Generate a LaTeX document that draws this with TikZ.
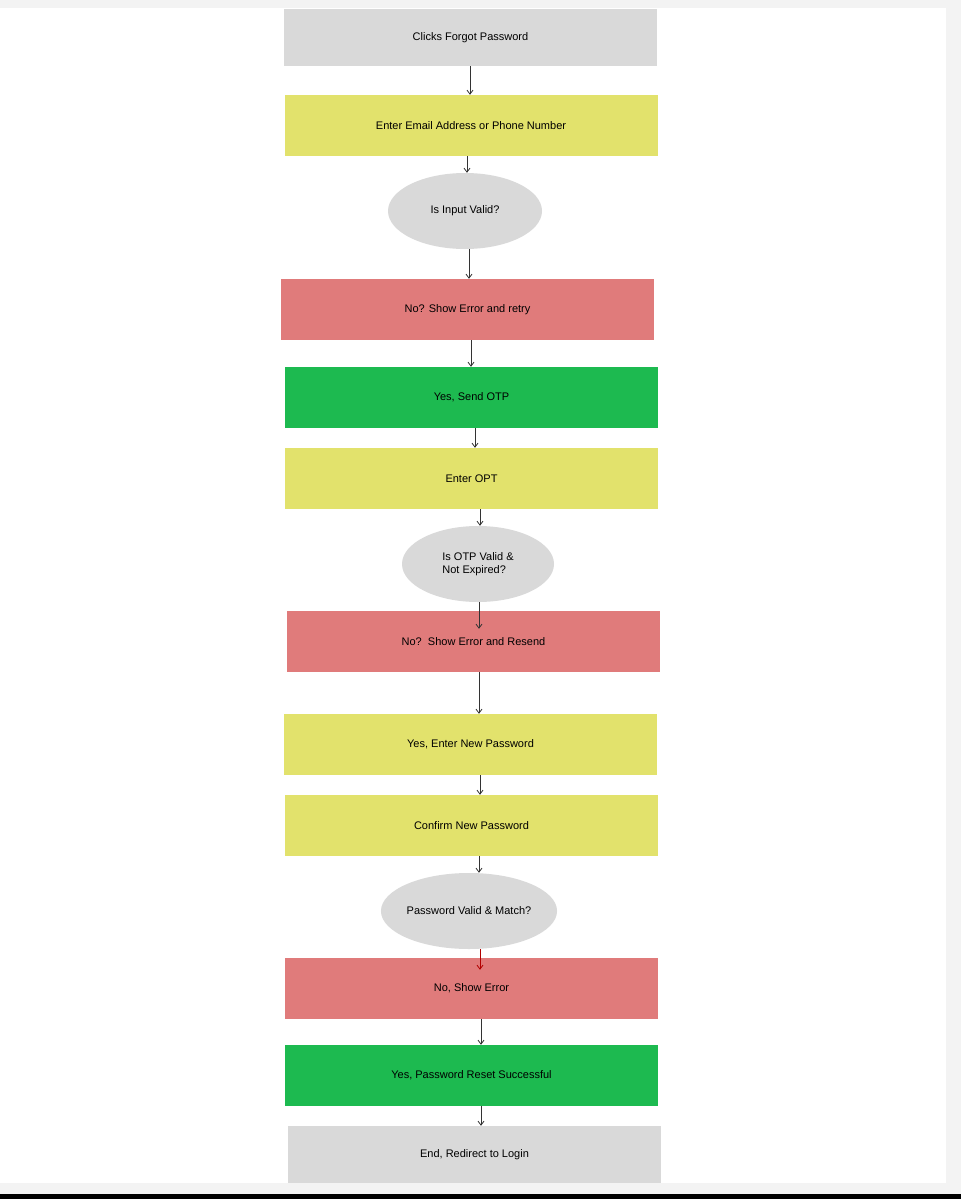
\documentclass[tikz,border=0pt]{standalone}
\usepackage{fontspec}
\setmainfont{Liberation Sans}
\usetikzlibrary{shapes.geometric,arrows.meta,calc}
\definecolor{cgray}{HTML}{D9D9D9}
\definecolor{cyel}{HTML}{E2E26C}
\definecolor{cred}{HTML}{E07B7B}
\definecolor{cgreen}{HTML}{1DBA50}
\definecolor{cbg}{HTML}{F3F3F3}
\tikzset{
  box/.style={rectangle,minimum width=373pt,minimum height=61pt,inner sep=0pt,font=\fontsize{11}{13}\selectfont},
  oval/.style={ellipse,fill=cgray,inner sep=0pt,font=\fontsize{11}{13}\selectfont,align=left},
  arr/.style={-{Straight Barb[length=4pt,width=6pt]},line width=0.8pt,black!80}
}
\begin{document}
\begin{tikzpicture}[x=1pt,y=-1pt]
\fill[cbg] (0,0) rectangle (961,1199);
\fill[white] (0,8) rectangle (946,1183);
\fill[black] (0,1194) rectangle (961,1199);
\useasboundingbox (0,0) rectangle (961,1199);
\node[box,fill=cgray,minimum height=57pt] (n1) at (470.5,37.5) {Clicks Forgot Password};
\node[box,fill=cyel] (n2) at (471,125.5) {Enter Email Address or Phone Number};
\node[oval,minimum width=154pt,minimum height=76pt] (e1) at (465,211) {Is Input Valid?};
\node[box,fill=cred] (n3) at (467.5,309.5) {No? Show Error and retry};
\node[box,fill=cgreen] (n4) at (471.5,397.5) {Yes, Send OTP};
\node[box,fill=cyel] (n5) at (471.5,478.5) {Enter OPT};
\node[oval,minimum width=152pt,minimum height=76pt] (e2) at (478,564) {Is OTP Valid \&\\Not Expired?};
\node[box,fill=cred] (n6) at (473.5,641.5) {No?\ \ Show Error and Resend};
\node[box,fill=cyel] (n7) at (470.5,744.5) {Yes, Enter New Password};
\node[box,fill=cyel] (n8) at (471.5,825.5) {Confirm New Password};
\node[oval,minimum width=172pt,minimum height=76pt] (e3) at (469,911) {Password Valid \& Match?};
\node[box,fill=cred] (n9) at (471.5,988.5) {No, Show Error};
\node[box,fill=cgreen] (n10) at (471.5,1075.5) {Yes, Password Reset Successful};
\node[box,fill=cgray,minimum height=57pt] (n11) at (474.5,1154.5) {End, Redirect to Login};
\foreach \v in {467,469,470,471,475,479,480,481}{\coordinate (x\v) at (\v,0);}
\draw[arr] (n1.south -| x470) -- (n2.north -| x470);
\draw[arr] (n2.south -| x467) -- (e1.north -| x467);
\draw[arr] (e1.south -| x469) -- (n3.north -| x469);
\draw[arr] (n3.south -| x471) -- (n4.north -| x471);
\draw[arr] (n4.south -| x475) -- (n5.north -| x475);
\draw[arr] (n5.south -| x480) -- (e2.north -| x480);
\draw[arr] (e2.south -| x479) -- ($(n6.north -| x479)+(0,18)$);
\draw[arr] (n6.south -| x479) -- (n7.north -| x479);
\draw[arr] (n7.south -| x480) -- (n8.north -| x480);
\draw[arr] (n8.south -| x479) -- (e3.north -| x479);
\draw[arr,red!70!black] (e3.south -| x480) -- ($(n9.north -| x480)+(0,12)$);
\draw[arr] (n9.south -| x481) -- (n10.north -| x481);
\draw[arr] (n10.south -| x481) -- (n11.north -| x481);
\end{tikzpicture}
\end{document}
